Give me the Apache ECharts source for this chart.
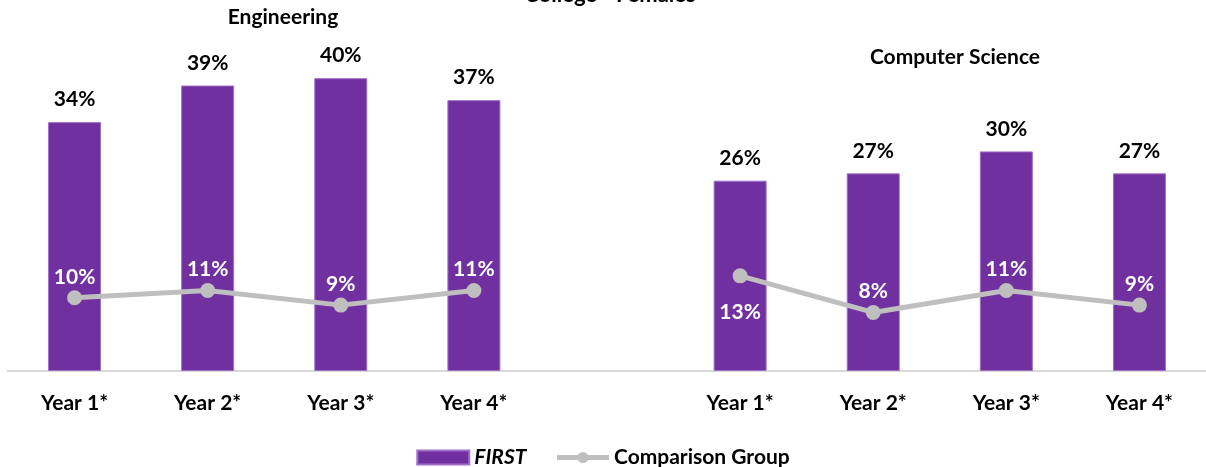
<!DOCTYPE html>
<html>
<head>
<meta charset="utf-8">
<script src="https://cdn.jsdelivr.net/npm/echarts@6/dist/echarts.min.js"></script>
<style>
html,body{margin:0;padding:0;background:#fff;}
#c{width:1206px;height:467px;}
</style>
</head>
<body>
<div id="c"></div>
<script>
var categories = ['Year 1*','Year 2*','Year 3*','Year 4*','','Year 1*','Year 2*','Year 3*','Year 4*'];
var firstValues = [34, 39, 40, 37, null, 26, 27, 30, 27];
var comparisonValues = [10, 11, 9, 11, null, 13, 8, 11, 9];
var panelTitles = ['Engineering', 'Computer Science'];
var mainTitle = 'College - Females';
var seriesNames = ['FIRST', 'Comparison Group'];

var FONT = 'Lato, "Open Sans", sans-serif';
var FS = 21;
var chart = echarts.init(document.getElementById('c'));

var compData = comparisonValues.map(function (v, i) {
  if (v === null) return null;
  var below = (i === 5);
  return {
    value: v,
    label: below ? { position: 'bottom', distance: 18 } : { position: 'top', distance: 3 }
  };
});

chart.setOption({
  animation: false,
  backgroundColor: '#ffffff',
  textStyle: { fontFamily: FONT },
  graphic: [
    { type: 'text', x: 610, y: -5, style: { text: mainTitle, font: 'bold 22px ' + FONT, fill: '#000', align: 'center', verticalAlign: 'middle' } },
    { type: 'text', x: 283, y: 17, style: { text: panelTitles[0], font: 'bold 21px ' + FONT, fill: '#000', align: 'center', verticalAlign: 'middle' } },
    { type: 'text', x: 955, y: 57, style: { text: panelTitles[1], font: 'bold 21px ' + FONT, fill: '#000', align: 'center', verticalAlign: 'middle' } }
  ],
  legend: {
    top: 442,
    left: 'center',
    itemWidth: 52,
    itemHeight: 14,
    itemGap: 28,
    data: [
      { name: seriesNames[0], icon: 'rect' },
      { name: seriesNames[1], lineStyle: { width: 5 } }
    ],
    textStyle: {
      fontFamily: FONT, fontSize: FS, fontWeight: 'bold', color: '#000',
      rich: { i: { fontFamily: FONT, fontSize: FS, fontWeight: 'bold', fontStyle: 'italic', color: '#000' } }
    },
    formatter: function (name) { return name === 'FIRST' ? '{i|' + name + '}' : name; }
  },
  grid: { left: 8, right: -3, top: 5, bottom: 96, containLabel: false },
  xAxis: {
    type: 'category',
    data: categories,
    axisLine: { show: true, lineStyle: { color: '#D9D9D9', width: 2 } },
    axisTick: { show: false },
    axisLabel: { fontFamily: FONT, fontSize: FS, fontWeight: 'bold', color: '#000', margin: 22, interval: 0 }
  },
  yAxis: {
    type: 'value', min: 0, max: 50,
    show: false,
    splitLine: { show: false }
  },
  series: [
    {
      name: seriesNames[0],
      type: 'bar',
      data: firstValues,
      barWidth: 53,
      itemStyle: { color: '#7030A0', borderColor: '#A070C8', borderWidth: 1 },
      label: {
        show: true, position: 'top', distance: 12,
        formatter: '{c}%', fontFamily: FONT, fontSize: FS, fontWeight: 'bold', color: '#000'
      }
    },
    {
      name: seriesNames[1],
      type: 'line',
      data: compData,
      connectNulls: false,
      symbol: 'circle',
      symbolSize: 15,
      lineStyle: { color: '#BFBFBF', width: 5 },
      itemStyle: { color: '#BFBFBF' },
      label: {
        show: true, formatter: '{c}%', fontFamily: FONT, fontSize: FS, fontWeight: 'bold', color: '#fff'
      },
      z: 5
    }
  ]
});
</script>
</body>
</html>
